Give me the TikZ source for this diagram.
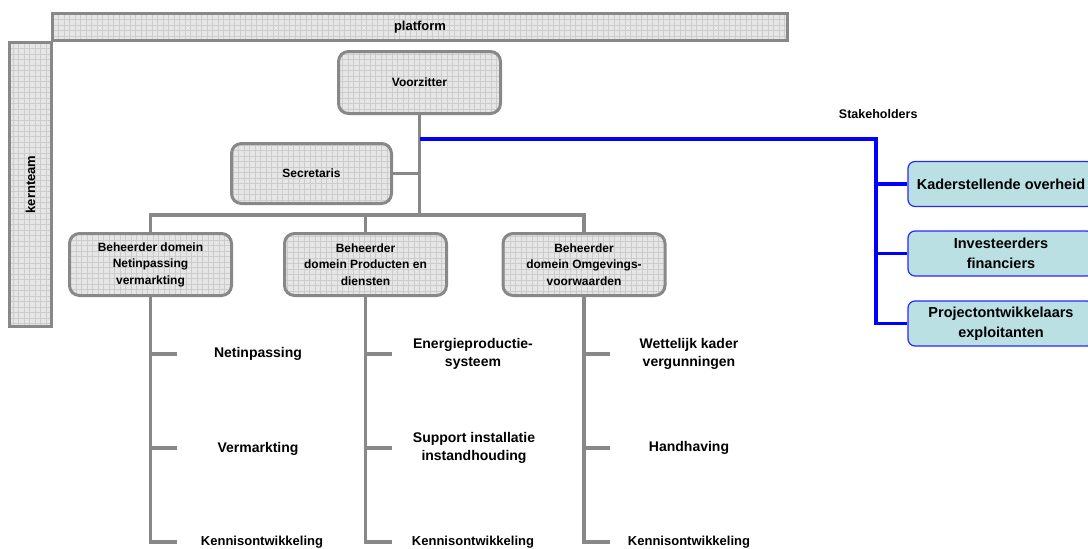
\documentclass[tikz,border=0pt]{standalone}
\usepackage{fontspec}
\setmainfont{Liberation Sans}
\usetikzlibrary{positioning}
\definecolor{lijngrijs}{RGB}{136,136,136}
\definecolor{vulgrijs}{RGB}{230,230,230}
\definecolor{rastergrijs}{RGB}{204,204,204}
\definecolor{stakevul}{RGB}{186,224,228}
\definecolor{stakerand}{RGB}{40,40,255}
\tikzset{
  raster/.style={path picture={\draw[rastergrijs, line width=0.4pt] (path picture bounding box.south west) grid[step=5.5pt] (path picture bounding box.north east);}},
  balk/.style={draw=lijngrijs, line width=3pt, fill=vulgrijs, raster, inner sep=0pt,
    font=\bfseries\fontsize{13}{15}\selectfont},
  functie/.style={draw=lijngrijs, line width=3pt, fill=vulgrijs, raster, rounded corners=10pt,
    minimum width=162pt, minimum height=62pt, inner sep=0pt, align=center,
    font=\bfseries\fontsize{12}{16.5}\selectfont},
  taak/.style={align=center, font=\bfseries\fontsize{14}{18}\selectfont},
  kennis/.style={font=\bfseries\fontsize{13}{15}\selectfont},
  stake/.style={draw=stakerand, line width=1.2pt, fill=stakevul, rounded corners=7pt,
    minimum width=186pt, minimum height=45pt, inner sep=0pt, align=center,
    font=\bfseries\fontsize{14.5}{20}\selectfont},
  boom/.style={draw=lijngrijs, line width=3.8pt},
  blauw/.style={draw=blue, line width=3.8pt}
}
\begin{document}
\begin{tikzpicture}[x=1pt,y=-1pt]
  \useasboundingbox (0,0) rectangle (1088,549);
  % kader: kernteam en platform
  \node[balk, rotate=90, minimum width=284pt, minimum height=42pt] (kernteam) at (30.5,184.5) {kernteam};
  \node[balk, minimum width=735pt, minimum height=27pt] (platform) at (420,27) {platform};

  % organisatie
  \node[functie] (voorz) at (419.5,82.5) {Voorzitter};
  \node[functie, minimum width=160pt, minimum height=60pt] (secr) at (311.5,173.5) {Secretaris};
  \node[functie] (b1) at (150.5,264.5) {Beheerder domein\\Netinpassing\\vermarkting};
  \node[functie] (b2) at (365.5,264.5) {Beheerder\\domein Producten en\\diensten};
  \node[functie] (b3) at (584,264.5) {Beheerder\\domein Omgevings-\\voorwaarden};

  \path (b1.north) ++(0,-17) coordinate (bus);
  \draw[boom] (voorz.south) -- (voorz.south |- bus);
  \draw[boom] (secr.east) -- (secr.east -| voorz.south);
  \draw[boom] (b1.north) -- (bus) -- (bus -| b3.north) -- (b3.north);
  \draw[boom] (b2.north) -- (b2.north |- bus);

  % taken per domein
  \node[taak] (n1a) at (258,354) {Netinpassing};
  \node[taak] (n1b) at (258,449) {Vermarkting};
  \node[kennis] (n1c) at (262,542) {Kennisontwikkeling};
  \node[taak] (n2a) at (473,354) {Energieproductie-\\systeem};
  \node[taak] (n2b) at (474,448) {Support installatie\\instandhouding};
  \node[kennis] (n2c) at (473,542) {Kennisontwikkeling};
  \node[taak] (n3a) at (689,354) {Wettelijk kader\\vergunningen};
  \node[taak] (n3b) at (689,448) {Handhaving};
  \node[kennis] (n3c) at (689,542) {Kennisontwikkeling};

  \foreach \k in {1,2,3} {
    \path (b\k.south) ++(26,57) coordinate (t\k a) ++(0,94) coordinate (t\k b) ++(0,94) coordinate (t\k c);
    \draw[boom] (b\k.south) |- (t\k a) (b\k.south) |- (t\k b) (b\k.south) |- (t\k c);
  }

  % stakeholders
  \node[kennis, font=\bfseries\fontsize{12.5}{15}\selectfont, anchor=east] (stakeh) at (921,114) {Stakeholders};
  \node[stake] (s1) at (1001,184) {Kaderstellende overheid};
  \node[stake] (s2) at (1001,253.5) {Investeerders\\financiers};
  \node[stake] (s3) at (1001,323.5) {Projectontwikkelaars\\exploitanten};

  \coordinate (hoek) at (876,139);
  \draw[blauw] (hoek -| voorz.south) -- (hoek) |- (s3.west);
  \draw[blauw] (hoek |- s1.west) -- (s1.west);
  \draw[blauw] (hoek |- s2.west) -- (s2.west);
\end{tikzpicture}
\end{document}
